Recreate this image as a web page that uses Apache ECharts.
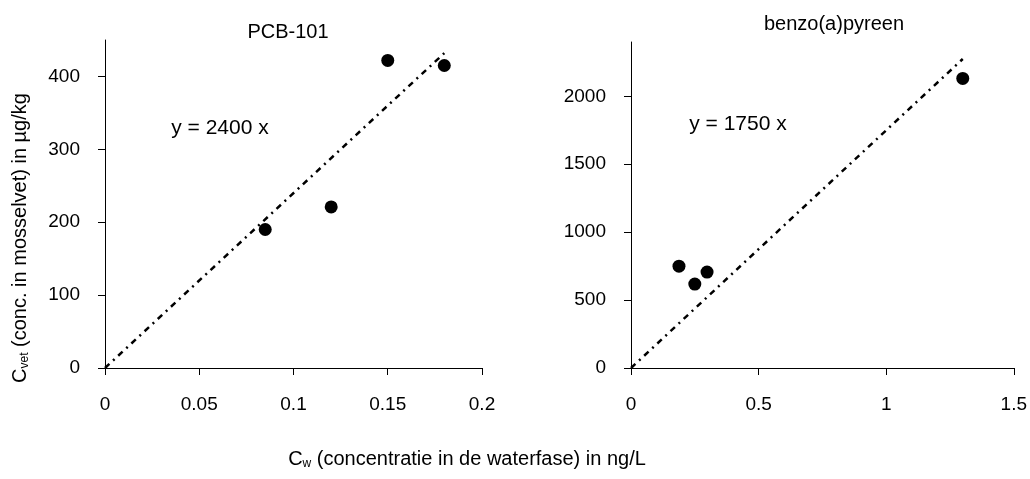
<!DOCTYPE html>
<html>
<head>
<meta charset="utf-8">
<script src="https://cdn.jsdelivr.net/npm/echarts@6/dist/echarts.min.js"></script>
<style>html,body{margin:0;padding:0;background:#fff;}#c{width:1030px;height:479px;}</style>
</head>
<body>
<div id="c"></div>
<script>
// PCB-101
const pcbX = [0.085, 0.12, 0.15, 0.18];
const pcbY = [190, 221, 422, 415];
const pcbSlope = 2400;
const pcbLineX = [0, 0.18];
// benzo(a)pyreen
const bapX = [0.188, 0.25, 0.298, 1.3];
const bapY = [750, 618, 706, 2132];
const bapSlope = 1750;
const bapLineX = [0, 1.3];

const titles = ['PCB-101', 'benzo(a)pyreen'];
const eqTexts = ['y = 2400 x', 'y = 1750 x'];

const FONT = '"Liberation Sans", Arial, sans-serif';
const FS = 19;   // tick labels
const FT = 20;   // titles, annotations, axis names

const pts = (xs, ys) => xs.map((x, i) => [x, ys[i]]);
const line = (xs, k) => xs.map(x => [x, k * x]);

const axisCommon = {
  axisLine: { show: true, lineStyle: { color: '#000', width: 1 } },
  axisTick: { show: true, inside: false, length: 7, lineStyle: { color: '#000' } },
  splitLine: { show: false },
  axisLabel: { color: '#000', fontSize: FS, fontFamily: FONT, margin: 25, formatter: v => String(v) }
};

const lineStyle = { color: '#000', width: 2.5, type: [6, 5, 2, 5], opacity: 1 };

const chart = echarts.init(document.getElementById('c'), null, { renderer: 'canvas' });
chart.setOption({
  animation: false,
  backgroundColor: '#fff',
  textStyle: { fontFamily: FONT },
  grid: [
    { left: 105, right: 548, top: 40, bottom: 111 },
    { left: 631, right: 16, top: 42, bottom: 111 }
  ],
  xAxis: [
    Object.assign({}, axisCommon, { gridIndex: 0, type: 'value', min: 0, max: 0.2, interval: 0.05,
      axisLabel: Object.assign({}, axisCommon.axisLabel, { margin: 27 }) }),
    Object.assign({}, axisCommon, { gridIndex: 1, type: 'value', min: 0, max: 1.5, interval: 0.5,
      axisLabel: Object.assign({}, axisCommon.axisLabel, { margin: 27 }) })
  ],
  yAxis: [
    Object.assign({}, axisCommon, { gridIndex: 0, type: 'value', min: 0, max: 450, interval: 100,
      axisLabel: Object.assign({}, axisCommon.axisLabel, { showMaxLabel: false }) }),
    Object.assign({}, axisCommon, { gridIndex: 1, type: 'value', min: 0, max: 2400, interval: 500,
      axisLabel: Object.assign({}, axisCommon.axisLabel, { showMaxLabel: false }) })
  ],
  series: [
    { type: 'line', xAxisIndex: 0, yAxisIndex: 0, data: line(pcbLineX, pcbSlope), showSymbol: false,
      lineStyle: lineStyle, z: 1 },
    { type: 'scatter', xAxisIndex: 0, yAxisIndex: 0, data: pts(pcbX, pcbY), symbol: 'circle', symbolSize: 13,
      itemStyle: { color: '#000', opacity: 1 }, z: 2 },
    { type: 'line', xAxisIndex: 1, yAxisIndex: 1, data: line(bapLineX, bapSlope), showSymbol: false,
      lineStyle: lineStyle, z: 1 },
    { type: 'scatter', xAxisIndex: 1, yAxisIndex: 1, data: pts(bapX, bapY), symbol: 'circle', symbolSize: 13,
      itemStyle: { color: '#000', opacity: 1 }, z: 2 }
  ],
  graphic: [
    { type: 'text', x: 288, y: 32, style: { text: titles[0], fontSize: FT, fontFamily: FONT, fill: '#000', align: 'center', verticalAlign: 'middle' } },
    { type: 'text', x: 834, y: 24, style: { text: titles[1], fontSize: FT, fontFamily: FONT, fill: '#000', align: 'center', verticalAlign: 'middle' } },
    { type: 'text', x: 220, y: 128, style: { text: eqTexts[0], fontSize: 21, fontFamily: FONT, fill: '#000', align: 'center', verticalAlign: 'middle' } },
    { type: 'text', x: 738, y: 124, style: { text: eqTexts[1], fontSize: 21, fontFamily: FONT, fill: '#000', align: 'center', verticalAlign: 'middle' } },
    { type: 'text', x: 20, y: 238, rotation: Math.PI / 2,
      style: { text: '{m|C}{s|vet}{m| (conc. in mosselvet) in µg/kg}', align: 'center', verticalAlign: 'middle', fill: '#000',
        rich: { m: { fontSize: FT, fontFamily: FONT, fill: '#000', color: '#000' },
                s: { fontSize: 12, fontFamily: FONT, fill: '#000', color: '#000', padding: [9, 0, 0, 0] } } } },
    { type: 'text', x: 467, y: 459,
      style: { text: '{m|C}{s|w}{m| (concentratie in de waterfase) in ng/L}', align: 'center', verticalAlign: 'middle', fill: '#000',
        rich: { m: { fontSize: FT, fontFamily: FONT, fill: '#000', color: '#000' },
                s: { fontSize: 12, fontFamily: FONT, fill: '#000', color: '#000', padding: [9, 0, 0, 0] } } } }
  ]
});
</script>
</body>
</html>
